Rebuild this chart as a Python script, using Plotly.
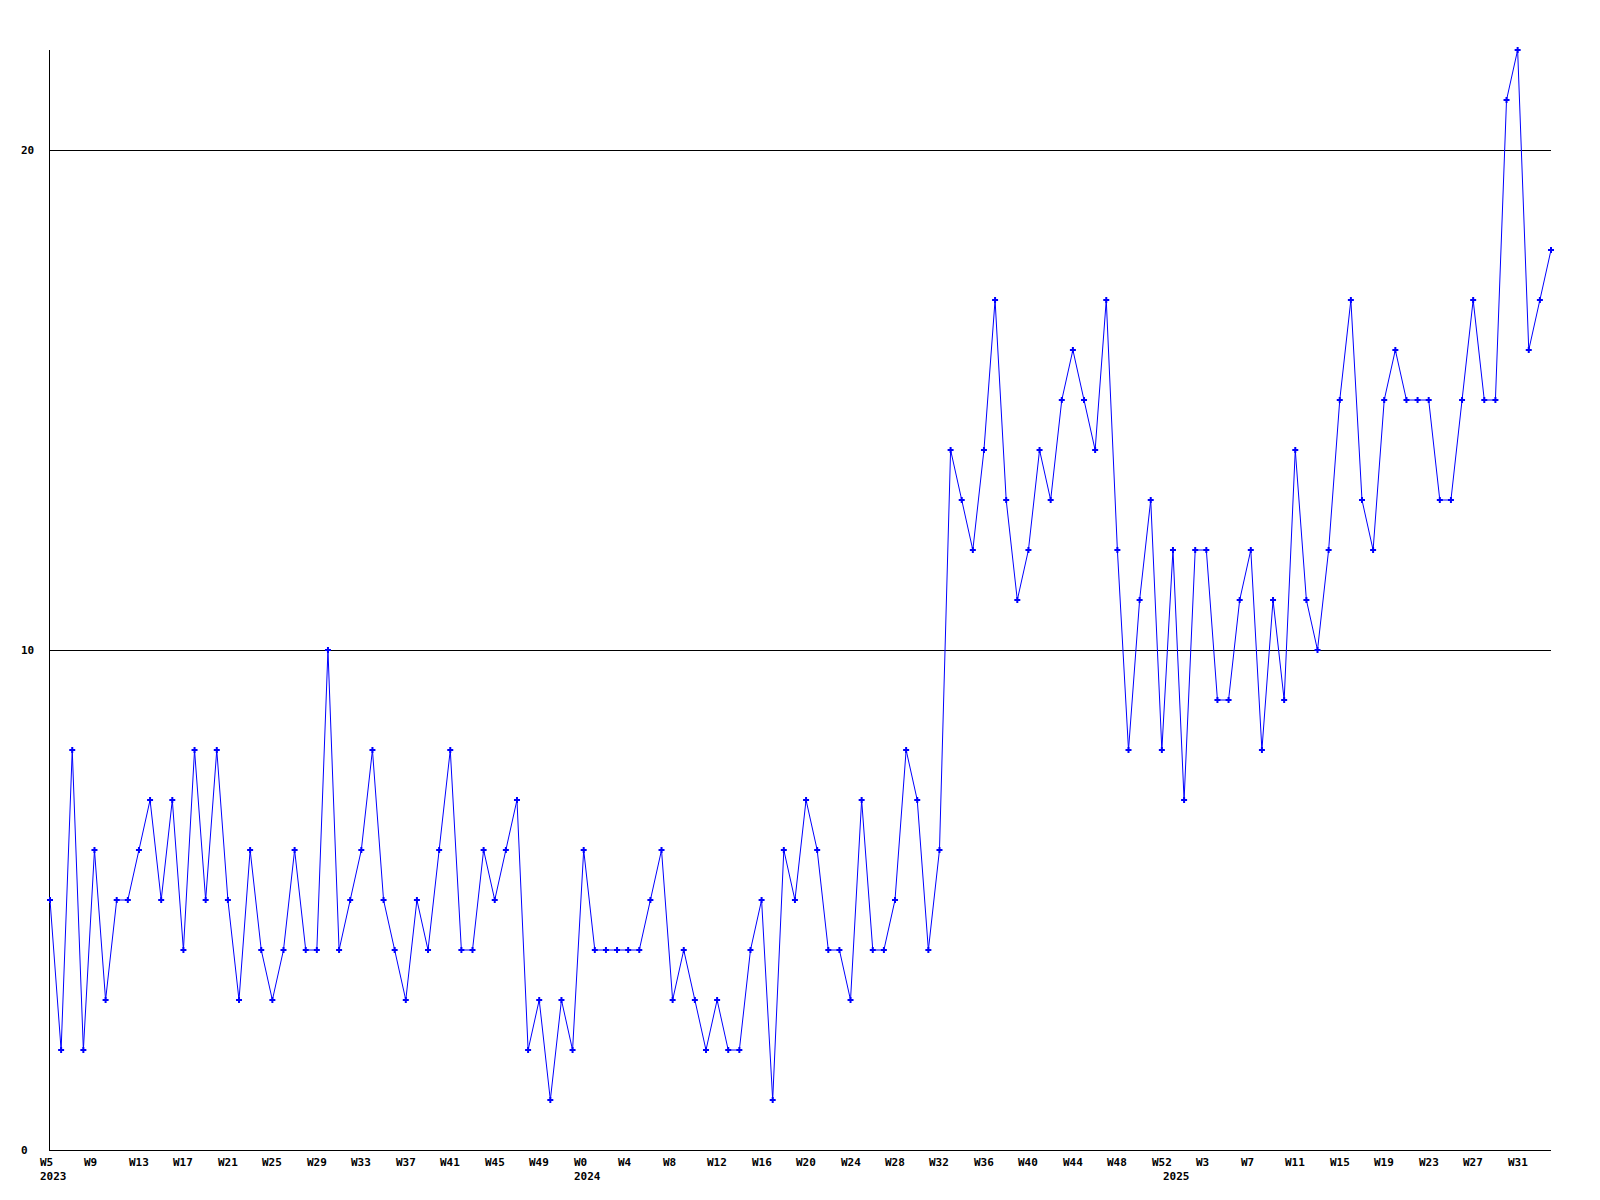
import plotly.graph_objects as go

# Weekly values, 2023 W5 .. 2025 W34
values = [
    5, 2, 8, 2, 6, 3, 5, 5, 6, 7, 5, 7, 4, 8, 5, 8, 5, 3, 6, 4,
    3, 4, 6, 4, 4, 10, 4, 5, 6, 8, 5, 4, 3, 5, 4, 6, 8, 4, 4, 6,
    5, 6, 7, 2, 3, 1, 3, 2,
    6, 4, 4, 4, 4, 4, 5, 6, 3, 4, 3, 2, 3, 2, 2, 4, 5, 1, 6, 5,
    7, 6, 4, 4, 3, 7, 4, 4, 5, 8, 7, 4, 6, 14, 13, 12, 14, 17, 13, 11,
    12, 14, 13, 15, 16, 15, 14, 17, 12, 8, 11, 13, 8,
    12, 7, 12, 12, 9, 9, 11, 12, 8, 11, 9, 14, 11, 10, 12, 15, 17, 13,
    12, 15, 16, 15, 15, 15, 13, 13, 15, 17, 15, 15, 21, 22, 16, 17, 18,
]

tick_labels = [
    "W5", "W9", "W13", "W17", "W21", "W25", "W29", "W33", "W37", "W41", "W45", "W49",
    "W0", "W4", "W8", "W12", "W16", "W20", "W24", "W28", "W32", "W36", "W40", "W44",
    "W48", "W52", "W3", "W7", "W11", "W15", "W19", "W23", "W27", "W31",
]
tick_step = 4
year_positions = [0, 48, 101]
year_labels = ["2023", "2024", "2025"]
y_ticks = [0, 10, 20]

x = list(range(len(values)))
font = dict(family="DejaVu Sans Mono", size=11, color="black", weight="bold")

fig = go.Figure()
fig.add_trace(go.Scatter(
    x=x, y=values, mode="lines+markers",
    line=dict(color="#0000ff", width=1),
    marker=dict(symbol="cross", size=5, color="#0000ff", line=dict(width=0)),
    cliponaxis=False, hoverinfo="x+y",
))

annotations = []
for k, lab in enumerate(tick_labels):
    annotations.append(dict(
        x=k * tick_step, y=0, xref="x", yref="paper", text=lab, showarrow=False,
        xanchor="left", yanchor="top", align="left", xshift=-12, yshift=-4,
        font=font,
    ))
for pos, lab in zip(year_positions, year_labels):
    annotations.append(dict(
        x=pos, y=0, xref="x", yref="paper", text=lab, showarrow=False,
        xanchor="left", yanchor="top", align="left", xshift=-12, yshift=-18.3,
        font=font,
    ))
for v in y_ticks:
    annotations.append(dict(
        x=0, y=v, xref="paper", yref="y", text=str(v), showarrow=False,
        xanchor="left", yanchor="middle", align="left", xshift=-31,
        font=font,
    ))

fig.update_layout(
    width=1600, height=1200, autosize=False,
    margin=dict(l=50, r=49, t=50, b=50, pad=0),
    paper_bgcolor="white", plot_bgcolor="white",
    showlegend=False,
    annotations=annotations,
    xaxis=dict(range=[0, len(values) - 1], showgrid=False, zeroline=False,
               showline=True, linecolor="black", linewidth=1,
               showticklabels=False, ticks="", layer="below traces"),
    yaxis=dict(range=[0, 22], tickvals=y_ticks, showgrid=True, gridcolor="black",
               gridwidth=1, zeroline=False, showline=True, linecolor="black",
               linewidth=1, showticklabels=False, ticks="", layer="below traces"),
)

fig.write_html("out.html", config={"displayModeBar": False},
               post_script="document.body.style.margin='0';")
